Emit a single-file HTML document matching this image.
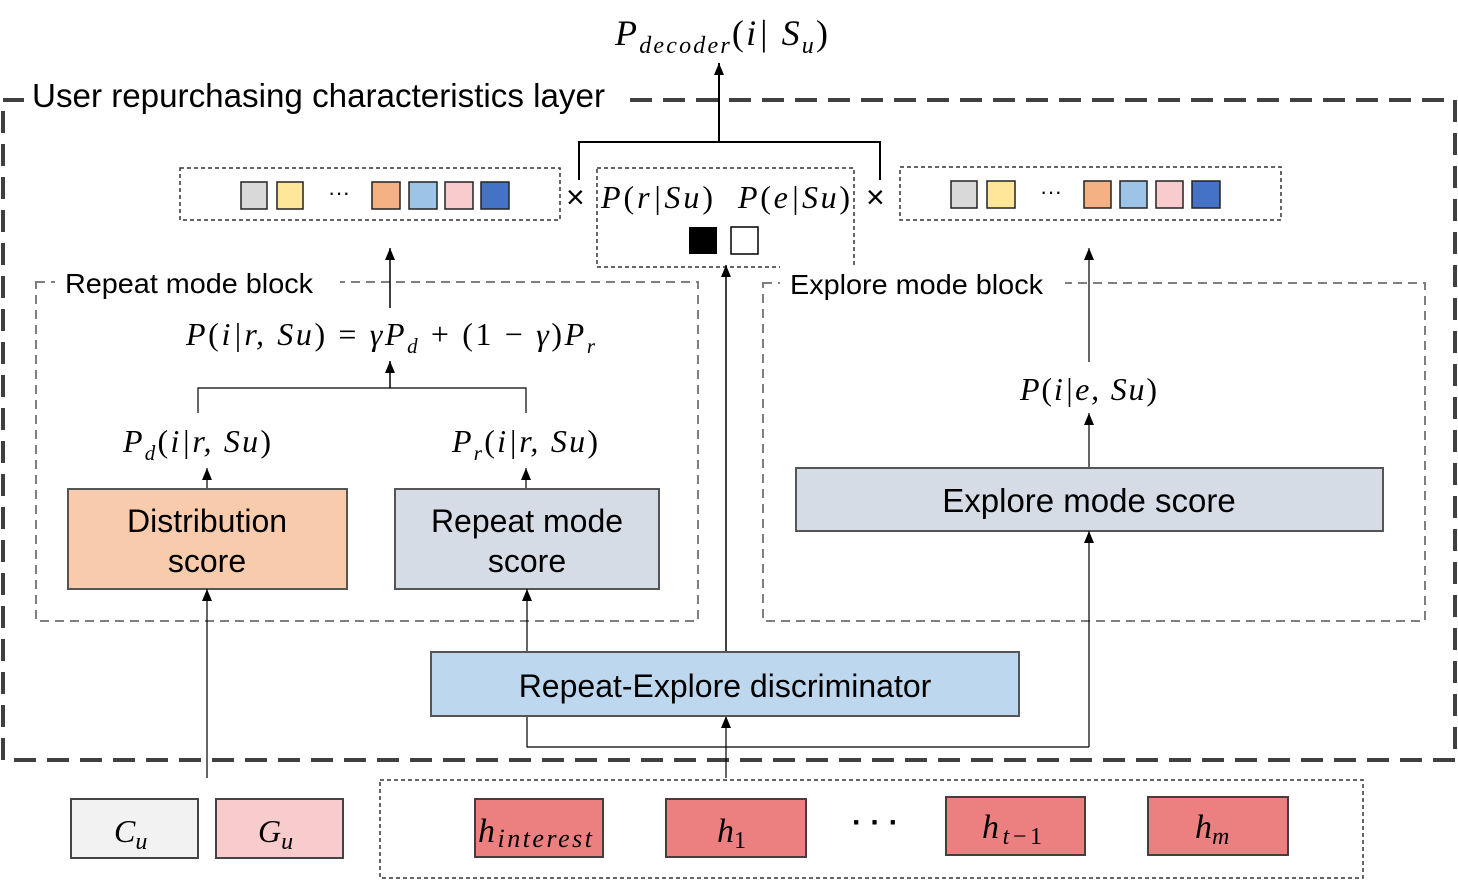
<!DOCTYPE html>
<html><head><meta charset="utf-8"><style>
html,body{margin:0;padding:0;background:#fff}
svg{display:block}
.s{font-family:"Liberation Sans",sans-serif}
.m{font-family:"Liberation Serif",serif;font-style:italic}
.u{font-family:"Liberation Serif",serif;font-style:normal}
</style></head><body>
<svg width="1458" height="880" viewBox="0 0 1458 880" xmlns="http://www.w3.org/2000/svg">
<defs><marker id="a" markerWidth="12" markerHeight="10" refX="12" refY="5" orient="auto" markerUnits="userSpaceOnUse"><path d="M0,0 L12,5 L0,10 z" fill="#000"/></marker></defs>
<!-- outer -->
<rect x="3" y="100" width="1452" height="660" fill="none" stroke="#404040" stroke-width="4" stroke-dasharray="22,11"/>
<rect x="24" y="70" width="596" height="50" fill="#fff"/>
<text x="32" y="107" class="s" font-size="33" textLength="573" lengthAdjust="spacingAndGlyphs">User repurchasing characteristics layer</text>
<!-- top -->
<text x="615" y="45" class="m" font-size="36" textLength="213">P<tspan font-size="24" dy="8">decoder</tspan><tspan dy="-8" class="u">(</tspan>i| S<tspan font-size="24" dy="8">u</tspan><tspan dy="-8" class="u">)</tspan></text>
<line x1="719" y1="142" x2="719" y2="63" stroke="#000" stroke-width="2" marker-end="url(#a)"/>
<polyline points="579,180 579,142 880,142 880,180" fill="none" stroke="#000" stroke-width="2"/>
<!-- vectors -->
<rect x="180" y="168" width="380" height="52" fill="none" stroke="#333" stroke-width="1.5" stroke-dasharray="4,3"/>
<g stroke="#222" stroke-width="1.5">
<rect x="241" y="182" width="26" height="27" fill="#d9d9d9"/><rect x="277" y="182" width="26" height="27" fill="#ffe699"/>
<rect x="372" y="182" width="28" height="27" fill="#f4b183"/><rect x="409" y="182" width="28" height="27" fill="#9dc3e6"/>
<rect x="445" y="182" width="28" height="27" fill="#f8cbcd"/><rect x="481" y="182" width="28" height="27" fill="#4472c4"/>
</g>
<text x="328" y="200" class="s" font-size="22">···</text>
<text x="566" y="208" class="s" font-size="32">×</text>
<rect x="597" y="168" width="257" height="99" fill="none" stroke="#333" stroke-width="1.5" stroke-dasharray="4,3"/>
<text x="601" y="208" class="m" font-size="32" textLength="112">P<tspan class="u">(</tspan>r|Su<tspan class="u">)</tspan></text>
<text x="738" y="208" class="m" font-size="32" textLength="112">P<tspan class="u">(</tspan>e|Su<tspan class="u">)</tspan></text>
<rect x="689" y="227" width="28" height="27" fill="#000"/>
<rect x="731" y="227" width="27" height="27" fill="#fff" stroke="#000" stroke-width="1.5"/>
<text x="866" y="208" class="s" font-size="32">×</text>
<rect x="900" y="167" width="381" height="53" fill="none" stroke="#333" stroke-width="1.5" stroke-dasharray="4,3"/>
<g stroke="#222" stroke-width="1.5">
<rect x="951" y="181" width="26" height="27" fill="#d9d9d9"/><rect x="987" y="181" width="28" height="27" fill="#ffe699"/>
<rect x="1084" y="181" width="27" height="27" fill="#f4b183"/><rect x="1120" y="181" width="27" height="27" fill="#9dc3e6"/>
<rect x="1156" y="181" width="27" height="27" fill="#f8cbcd"/><rect x="1192" y="181" width="28" height="27" fill="#4472c4"/>
</g>
<text x="1040" y="199" class="s" font-size="22">···</text>
<!-- repeat block -->
<rect x="36" y="282" width="662" height="339" fill="none" stroke="#7f7f7f" stroke-width="2" stroke-dasharray="9,6"/>
<rect x="55" y="265" width="285" height="40" fill="#fff"/>
<text x="65" y="293" class="s" font-size="28" textLength="248" lengthAdjust="spacingAndGlyphs">Repeat mode block</text>
<line x1="390" y1="308" x2="390" y2="248" stroke="#000" stroke-width="1.5" marker-end="url(#a)"/>
<text x="186" y="345" class="m" font-size="32" textLength="409">P<tspan class="u">(</tspan>i|r, Su<tspan class="u">) = </tspan>γP<tspan font-size="21" dy="8">d</tspan><tspan dy="-8" class="u"> + (1 − </tspan>γ<tspan class="u">)</tspan>P<tspan font-size="21" dy="8">r</tspan></text>
<line x1="390" y1="388" x2="390" y2="361" stroke="#000" stroke-width="1.5" marker-end="url(#a)"/>
<polyline points="198,413 198,388 526,388 526,413" fill="none" stroke="#000" stroke-width="1.2"/>
<text x="123" y="452" class="m" font-size="32" textLength="148">P<tspan font-size="21" dy="8">d</tspan><tspan dy="-8" class="u">(</tspan>i|r, Su<tspan class="u">)</tspan></text>
<text x="452" y="452" class="m" font-size="32" textLength="146">P<tspan font-size="21" dy="8">r</tspan><tspan dy="-8" class="u">(</tspan>i|r, Su<tspan class="u">)</tspan></text>
<line x1="207" y1="489" x2="207" y2="468" stroke="#000" stroke-width="1.2" marker-end="url(#a)"/>
<line x1="526" y1="489" x2="526" y2="468" stroke="#000" stroke-width="1.2" marker-end="url(#a)"/>
<rect x="68" y="489" width="279" height="100" fill="#f8cbad" stroke="#555" stroke-width="2"/>
<text x="207" y="532" text-anchor="middle" class="s" font-size="32">Distribution</text>
<text x="207" y="572" text-anchor="middle" class="s" font-size="32">score</text>
<rect x="395" y="489" width="264" height="100" fill="#d6dce5" stroke="#555" stroke-width="2"/>
<text x="527" y="532" text-anchor="middle" class="s" font-size="32">Repeat mode</text>
<text x="527" y="572" text-anchor="middle" class="s" font-size="32">score</text>
<!-- explore block -->
<rect x="763" y="283" width="662" height="338" fill="none" stroke="#7f7f7f" stroke-width="2" stroke-dasharray="9,6"/>
<rect x="780" y="265" width="285" height="40" fill="#fff"/>
<text x="790" y="294" class="s" font-size="28" textLength="253" lengthAdjust="spacingAndGlyphs">Explore mode block</text>
<line x1="1089" y1="362" x2="1089" y2="248" stroke="#000" stroke-width="1.2" marker-end="url(#a)"/>
<text x="1020" y="400" class="m" font-size="32" textLength="137">P<tspan class="u">(</tspan>i|e, Su<tspan class="u">)</tspan></text>
<line x1="1089" y1="468" x2="1089" y2="413" stroke="#000" stroke-width="1.2" marker-end="url(#a)"/>
<rect x="796" y="468" width="587" height="63" fill="#d6dce5" stroke="#555" stroke-width="2"/>
<text x="1089" y="512" text-anchor="middle" class="s" font-size="33">Explore mode score</text>
<!-- discriminator -->
<line x1="726" y1="652" x2="726" y2="265" stroke="#000" stroke-width="1.5" marker-end="url(#a)"/>
<line x1="527" y1="652" x2="527" y2="589" stroke="#000" stroke-width="1.2" marker-end="url(#a)"/>
<line x1="207" y1="778" x2="207" y2="589" stroke="#000" stroke-width="1.2" marker-end="url(#a)"/>
<polyline points="527,716 527,747 1089,747" fill="none" stroke="#000" stroke-width="1.2"/>
<line x1="1089" y1="747" x2="1089" y2="531" stroke="#000" stroke-width="1.2" marker-end="url(#a)"/>
<line x1="726" y1="778" x2="726" y2="716" stroke="#000" stroke-width="1.2" marker-end="url(#a)"/>
<rect x="431" y="652" width="588" height="64" fill="#bdd7ee" stroke="#555" stroke-width="2"/>
<text x="725" y="697" text-anchor="middle" class="s" font-size="32">Repeat-Explore discriminator</text>
<!-- bottom -->
<rect x="71" y="799" width="127" height="59" fill="#f2f2f2" stroke="#444" stroke-width="2"/>
<text x="114" y="842" class="m" font-size="32">C<tspan font-size="24" dy="7">u</tspan></text>
<rect x="216" y="799" width="127" height="59" fill="#f8cbcd" stroke="#444" stroke-width="2"/>
<text x="258" y="842" class="m" font-size="32">G<tspan font-size="24" dy="7">u</tspan></text>
<rect x="380" y="780" width="983" height="98" fill="none" stroke="#333" stroke-width="1.5" stroke-dasharray="4,3"/>
<g fill="#ec8081" stroke="#4a3c3c" stroke-width="2">
<rect x="475" y="799" width="128" height="58"/><rect x="666" y="799" width="140" height="58"/>
<rect x="946" y="797" width="139" height="58"/><rect x="1148" y="797" width="140" height="58"/>
</g>
<text x="478" y="842" class="m" font-size="34" textLength="114">h<tspan font-size="26" dy="5">interest</tspan></text>
<text x="717" y="842" class="m" font-size="34">h<tspan font-size="24" dy="6" class="u">1</tspan></text>
<text x="982" y="838" class="m" font-size="34" textLength="60">h<tspan font-size="24" dy="6">t</tspan><tspan font-size="24" class="u">−1</tspan></text>
<text x="1195" y="838" class="m" font-size="34">h<tspan font-size="24" dy="6">m</tspan></text>
<text x="852" y="832" class="s" font-size="30" font-weight="bold">· · ·</text>
</svg>
</body></html>
